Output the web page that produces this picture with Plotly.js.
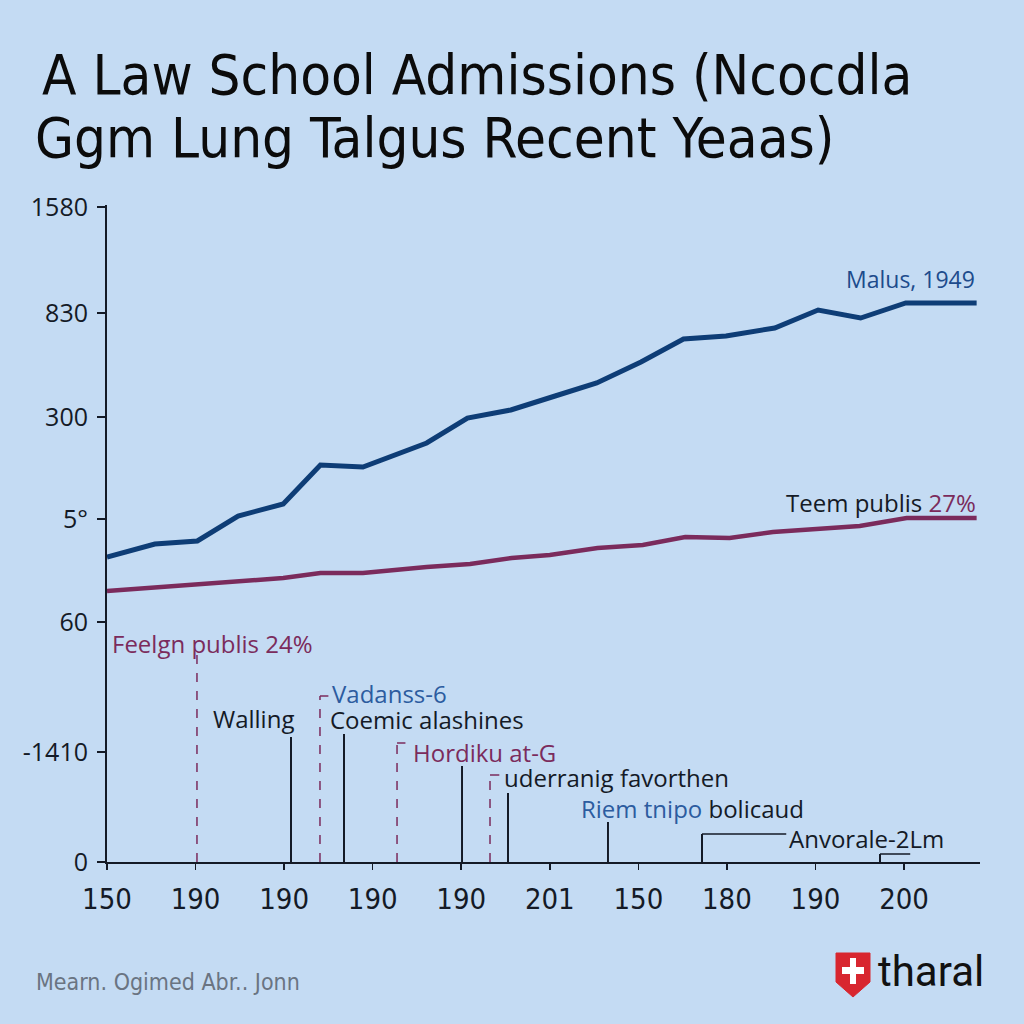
<!DOCTYPE html>
<html>
<head>
<meta charset="utf-8">
<script src="https://cdn.plot.ly/plotly-3.0.1.min.js"></script>
<style>
  html, body { margin: 0; padding: 0; background: #c4dbf3; }
  #plot { width: 1024px; height: 1024px; }
</style>
</head>
<body>
<div id="plot"></div>
<script>
// tick labels as printed on the chart
var xLabels = ["150", "190", "190", "190", "190", "201", "150", "180", "190", "200"];
var yTickPos = [0, 110, 240, 343, 445, 549, 655];
var yTickText = ["0", "-1410", "60", "5°", "300", "830", "1580"];

// upper series (dark blue)
var malusX = [0, 0.54, 1.02, 1.48, 1.99, 2.41, 2.89, 3.31, 3.61, 4.07, 4.56, 5.06, 5.53, 6.03, 6.51, 6.99, 7.54, 8.03, 8.51, 9.02, 9.82];
var malusY = [305, 318, 321, 346, 358, 397, 395, 409, 419, 444, 452, 466, 479, 500, 523, 526, 534, 552, 544, 559, 559];

// lower series (maroon)
var publicX = [0, 1.99, 2.41, 2.89, 3.61, 4.1, 4.57, 5.0, 5.54, 6.05, 6.53, 7.03, 7.52, 8.5, 9.03, 9.82];
var publicY = [271, 284, 289, 289, 295, 298, 304, 307, 314, 317, 325, 324, 330, 336, 344, 344];

var BLUE = "#0e3d76";
var MAROON = "#7b2b5c";
var TXTBLUE = "#2c5c9f";
var INK = "#141a26";
var TEXTFONT = "Open Sans, Noto Sans, sans-serif";
var NARROW = "Liberation Sans Narrow, DejaVu Sans Condensed, Arial Narrow, sans-serif";

// plot area in pixels: x 107..980, y 205..862
function px(x) { return (x - 107) / 873; }
function py(y) { return (862 - y) / 657; }

var trace1 = {
  x: malusX,
  y: malusY,
  mode: "lines",
  line: { color: BLUE, width: 5 },
  hoverinfo: "skip"
};

var trace2 = {
  x: publicX,
  y: publicY,
  mode: "lines",
  line: { color: MAROON, width: 4.5 },
  hoverinfo: "skip"
};

// leader lines rising from the baseline to the callout labels
var callouts = [
  { x: 1.016, top: 207, dash: true },
  { x: 2.078, top: 125 },
  { x: 2.405, top: 166, dash: true, hook: 2.50 },
  { x: 2.676, top: 128 },
  { x: 3.275, top: 119, dash: true, hook: 3.37 },
  { x: 4.009, top: 96 },
  { x: 4.325, top: 87, dash: true, hook: 4.43 },
  { x: 4.528, top: 69 },
  { x: 5.657, top: 40 },
  { x: 6.719, top: 28, hook: 7.67 },
  { x: 8.729, top: 8, hook: 9.07 }
];

var shapes = [];
callouts.forEach(function (c) {
  var col = c.dash ? MAROON : INK;
  shapes.push({
    type: "line", xref: "x", yref: "y",
    x0: c.x, x1: c.x, y0: 0, y1: c.top,
    line: { color: col, width: c.dash ? 1.5 : 2, dash: c.dash ? "dash" : "solid" }
  });
  if (c.hook) {
    shapes.push({
      type: "line", xref: "x", yref: "y",
      x0: c.x, x1: c.hook, y0: c.top, y1: c.top,
      line: { color: col, width: 1.5 }
    });
  }
});

// logo shield
shapes.push({
  type: "path", xref: "paper", yref: "paper",
  path: "M " + px(836) + " " + py(953) + " L " + px(870) + " " + py(953) +
        " L " + px(870) + " " + py(982) + " L " + px(853) + " " + py(997) +
        " L " + px(836) + " " + py(982) + " Z",
  fillcolor: "#d8262f", line: { color: "#d8262f", width: 1 }
});
shapes.push({
  type: "rect", xref: "paper", yref: "paper",
  x0: px(850), x1: px(856), y0: py(984), y1: py(958),
  fillcolor: "#ffffff", line: { width: 0 }
});
shapes.push({
  type: "rect", xref: "paper", yref: "paper",
  x0: px(842), x1: px(864), y0: py(974), y1: py(967),
  fillcolor: "#ffffff", line: { width: 0 }
});

function note(text, x, y, color) {
  return {
    text: text, xref: "x", yref: "y", x: x, y: y,
    xanchor: "left", yanchor: "middle", showarrow: false, borderpad: 0,
    font: { family: TEXTFONT, size: 24, color: color }
  };
}

var annotations = [
  // title, two lines set separately
  { text: "A Law School Admissions (Ncocdla", xref: "paper", yref: "paper",
    x: px(40), y: py(74), xanchor: "left", yanchor: "middle", showarrow: false,
    font: { family: NARROW, size: 56, color: "#0b0b0b" } },
  { text: "Ggm Lung Talgus Recent Yeaas)", xref: "paper", yref: "paper",
    x: px(33), y: py(137), xanchor: "left", yanchor: "middle", showarrow: false,
    font: { family: NARROW, size: 56, color: "#0b0b0b" } },

  // series end labels
  { text: "Malus, 1949", xref: "x", yref: "y", x: 9.82, y: 583,
    xanchor: "right", yanchor: "middle", showarrow: false,
    font: { family: TEXTFONT, size: 23, color: "#1d4b8c" } },
  { text: "Teem publis <span style='color:" + MAROON + "'>27%</span>", xref: "x", yref: "y",
    x: 9.84, y: 360, xanchor: "right", yanchor: "middle", showarrow: false,
    font: { family: TEXTFONT, size: 24, color: INK } },

  // callout labels
  note("Feelgn publis 24%", 0.045, 219, MAROON),
  note("Walling", 1.186, 144, INK),
  note("Vadanss-6", 2.53, 169, TXTBLUE),
  note("Coemic alashines", 2.507, 143, INK),
  note("Hordiku at-G", 3.444, 110, MAROON),
  note("uderranig favorthen", 4.47, 85, INK),
  note("<span style='color:" + TXTBLUE + "'>Riem tnipo</span> bolicaud", 5.341, 54, INK),
  note("Anvorale-2Lm", 7.69, 24, INK),

  // footer
  { text: "Mearn. Ogimed Abr.. Jonn", xref: "paper", yref: "paper",
    x: px(34), y: py(982), xanchor: "left", yanchor: "middle", showarrow: false,
    font: { family: NARROW, size: 23, color: "#6a7482" } },
  { text: "tharal", xref: "paper", yref: "paper",
    x: px(876), y: py(972), xanchor: "left", yanchor: "middle", showarrow: false,
    font: { family: "Roboto, sans-serif", size: 42, color: "#111111" } }
];

var layout = {
  width: 1024,
  height: 1024,
  paper_bgcolor: "#c4dbf3",
  plot_bgcolor: "#c4dbf3",
  showlegend: false,
  margin: { l: 107, r: 44, t: 205, b: 162 },
  xaxis: {
    range: [0, 9.858],
    tickvals: [0, 1, 2, 3, 4, 5, 6, 7, 8, 9],
    ticktext: xLabels,
    showgrid: false,
    zeroline: false,
    showline: true,
    linecolor: INK,
    linewidth: 2,
    ticks: "outside",
    ticklen: 6,
    tickwidth: 1.5,
    tickcolor: INK,
    ticklabelstandoff: 4,
    tickfont: { family: NARROW, size: 29, color: INK },
    fixedrange: true
  },
  yaxis: {
    range: [0, 657],
    tickvals: yTickPos,
    ticktext: yTickText,
    showgrid: false,
    zeroline: false,
    showline: true,
    linecolor: INK,
    linewidth: 2,
    ticks: "outside",
    ticklen: 8,
    tickwidth: 1.5,
    tickcolor: INK,
    ticklabelstandoff: 4,
    tickfont: { family: TEXTFONT, size: 25, color: INK },
    fixedrange: true
  },
  shapes: shapes,
  annotations: annotations
};

Plotly.newPlot("plot", [trace1, trace2], layout, { displayModeBar: false, staticPlot: true });
</script>
</body>
</html>
